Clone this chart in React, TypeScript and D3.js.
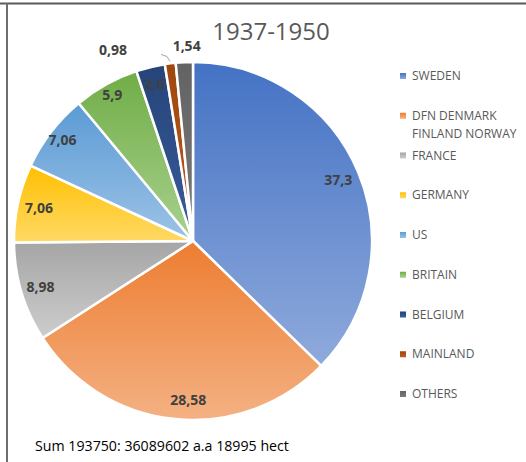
import React from "react";
import * as d3 from "d3";

const categories = ["SWEDEN", "DFN DENMARK FINLAND NORWAY", "FRANCE", "GERMANY", "US", "BRITAIN", "BELGIUM", "MAINLAND", "OTHERS"];
const legendLines = [["SWEDEN"], ["DFN DENMARK", "FINLAND NORWAY"], ["FRANCE"], ["GERMANY"], ["US"], ["BRITAIN"], ["BELGIUM"], ["MAINLAND"], ["OTHERS"]];
const values = [37.3, 28.58, 8.98, 7.06, 7.06, 5.9, 2.6, 0.98, 1.54];
const labels = ["37,3", "28,58", "8,98", "7,06", "7,06", "5,9", "2,6", "0,98", "1,54"];
const topColors = ["#4472C4", "#ED7D31", "#A5A5A5", "#FFC000", "#5B9BD5", "#70AD47", "#264478", "#9E480E", "#636363"];
const bottomColors = ["#8FAADC", "#F4B183", "#CDCDCD", "#FFD966", "#9DC3E6", "#A9D18E", "#3A5C9C", "#C0581A", "#7A7A7A"];
const title = "1937-1950";
const footer = "Sum 193750: 36089602 a.a 18995 hect";

// label layout: [angle offset in degrees relative to slice mid, radius fraction] ; null = outside label
const labelLayout: ([number, number] | null)[] = [[0, 0.88], [-4, 0.89], [0, 0.89], [0, 0.88], [0, 0.92], [0, 0.93], [0, 0.9], null, null];

export default function App() {
  const W = 526, H = 462;
  const cx = 193, cy = 241, R = 179;
  const pie = d3.pie<number>().sort(null).value((d) => d);
  const arcs = pie(values);
  const arc = d3.arc<d3.PieArcDatum<number>>().innerRadius(0).outerRadius(R);
  const font = "'Open Sans', 'Noto Sans', sans-serif";

  const legendY = d3.scaleLinear().domain([0, 8]).range([76, 394]);

  return (
    <svg width={W} height={H} style={{ position: "absolute", left: 0, top: 0, background: "#fff" }}>
      <defs>
        {categories.map((c, i) => (
          <linearGradient key={c} id={`g${i}`} x1="0" y1="0" x2="0" y2="1">
            <stop offset="0" stopColor={topColors[i]} />
            <stop offset="1" stopColor={bottomColors[i]} />
          </linearGradient>
        ))}
      </defs>
      <line x1={0} x2={W} y1={3.5} y2={3.5} stroke="#5a5a5a" strokeWidth={2} />
      <line x1={7} x2={7} y1={3} y2={H} stroke="#6e6e6e" strokeWidth={2} />
      <text x={271} y={40} textAnchor="middle" fontFamily={font} fontSize={24} fill="#595959">{title}</text>
      <g transform={`translate(${cx},${cy})`}>
        {arcs.map((a, i) => (
          <path key={i} d={arc(a) || ""} fill={`url(#g${i})`} stroke="#fff" strokeWidth={2.5} strokeLinejoin="round" />
        ))}
        {arcs.map((a, i) => {
          const lay = labelLayout[i];
          if (!lay) return null;
          const mid = (a.startAngle + a.endAngle) / 2 + (lay[0] * Math.PI) / 180;
          const r = R * lay[1];
          return (
            <text key={i} x={r * Math.sin(mid)} y={-r * Math.cos(mid)} dy="0.35em" textAnchor="middle" fontFamily={font} fontWeight="bold" fontSize={14} fill="#404040">
              {labels[i]}
            </text>
          );
        })}
        {(() => {
          const a = arcs[7];
          const mid = (a.startAngle + a.endAngle) / 2;
          const px = (R + 2) * Math.sin(mid), py = -(R + 2) * Math.cos(mid);
          return (
            <g>
              <polyline points={`${px},${py} ${px - 3},${py - 5} ${px - 9},${py - 7}`} fill="none" stroke="#a6a6a6" strokeWidth={1} />
              <text x={px - 57} y={py - 11} dy="0.35em" textAnchor="middle" fontFamily={font} fontWeight="bold" fontSize={14} fill="#404040">{labels[7]}</text>
            </g>
          );
        })()}
        {(() => {
          const a = arcs[8];
          const mid = (a.startAngle + a.endAngle) / 2;
          const r = R + 15;
          return (
            <text x={r * Math.sin(mid) + 3} y={-r * Math.cos(mid) - 1} dy="0.35em" textAnchor="middle" fontFamily={font} fontWeight="bold" fontSize={14} fill="#404040">{labels[8]}</text>
          );
        })()}
      </g>
      <g>
        {legendLines.map((lines, i) => {
          const y = legendY(i);
          return (
            <g key={i}>
              <rect x={400} y={y - 3} width={6} height={6} fill={`url(#g${i})`} />
              {lines.map((t, k) => (
                <text key={k} x={412} y={y + k * 18} dy="0.35em" fontFamily={font} fontSize={12} fill="#595959">{t}</text>
              ))}
            </g>
          );
        })}
      </g>
      <text x={35} y={451} fontFamily={font} fontSize={14.2} fill="#000">{footer}</text>
    </svg>
  );
}
